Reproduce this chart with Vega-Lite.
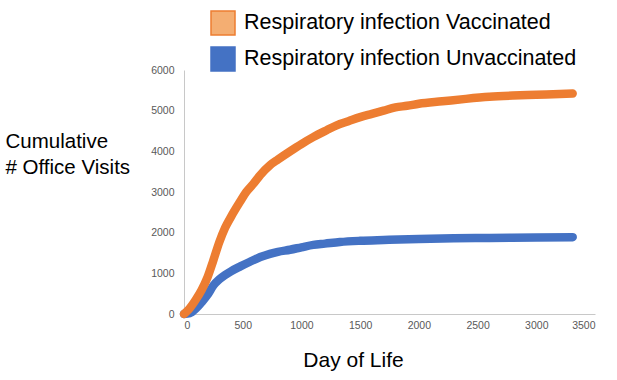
{
  "$schema": "https://vega.github.io/schema/vega-lite/v6.json",
  "width": 411,
  "height": 244,
  "autosize": {"type": "none"},
  "padding": {"left": 184, "top": 70, "right": 22, "bottom": 66},
  "background": "white",
  "config": {
    "view": {"stroke": null},
    "font": "Liberation Sans"
  },
  "data": {
    "values": [
      {"day": 0, "visits": 0, "group": "Respiratory infection Vaccinated"},
      {"day": 40, "visits": 110, "group": "Respiratory infection Vaccinated"},
      {"day": 100, "visits": 350, "group": "Respiratory infection Vaccinated"},
      {"day": 150, "visits": 590, "group": "Respiratory infection Vaccinated"},
      {"day": 200, "visits": 900, "group": "Respiratory infection Vaccinated"},
      {"day": 250, "visits": 1320, "group": "Respiratory infection Vaccinated"},
      {"day": 300, "visits": 1760, "group": "Respiratory infection Vaccinated"},
      {"day": 350, "visits": 2120, "group": "Respiratory infection Vaccinated"},
      {"day": 400, "visits": 2390, "group": "Respiratory infection Vaccinated"},
      {"day": 477, "visits": 2760, "group": "Respiratory infection Vaccinated"},
      {"day": 530, "visits": 3000, "group": "Respiratory infection Vaccinated"},
      {"day": 590, "visits": 3200, "group": "Respiratory infection Vaccinated"},
      {"day": 650, "visits": 3420, "group": "Respiratory infection Vaccinated"},
      {"day": 732, "visits": 3660, "group": "Respiratory infection Vaccinated"},
      {"day": 800, "visits": 3800, "group": "Respiratory infection Vaccinated"},
      {"day": 903, "visits": 4000, "group": "Respiratory infection Vaccinated"},
      {"day": 1000, "visits": 4180, "group": "Respiratory infection Vaccinated"},
      {"day": 1100, "visits": 4350, "group": "Respiratory infection Vaccinated"},
      {"day": 1215, "visits": 4520, "group": "Respiratory infection Vaccinated"},
      {"day": 1300, "visits": 4640, "group": "Respiratory infection Vaccinated"},
      {"day": 1400, "visits": 4740, "group": "Respiratory infection Vaccinated"},
      {"day": 1500, "visits": 4840, "group": "Respiratory infection Vaccinated"},
      {"day": 1600, "visits": 4920, "group": "Respiratory infection Vaccinated"},
      {"day": 1700, "visits": 5000, "group": "Respiratory infection Vaccinated"},
      {"day": 1800, "visits": 5080, "group": "Respiratory infection Vaccinated"},
      {"day": 1900, "visits": 5120, "group": "Respiratory infection Vaccinated"},
      {"day": 2000, "visits": 5170, "group": "Respiratory infection Vaccinated"},
      {"day": 2200, "visits": 5230, "group": "Respiratory infection Vaccinated"},
      {"day": 2400, "visits": 5290, "group": "Respiratory infection Vaccinated"},
      {"day": 2600, "visits": 5340, "group": "Respiratory infection Vaccinated"},
      {"day": 2800, "visits": 5370, "group": "Respiratory infection Vaccinated"},
      {"day": 3000, "visits": 5390, "group": "Respiratory infection Vaccinated"},
      {"day": 3200, "visits": 5410, "group": "Respiratory infection Vaccinated"},
      {"day": 3310, "visits": 5420, "group": "Respiratory infection Vaccinated"},
      {"day": 0, "visits": 0, "group": "Respiratory infection Unvaccinated"},
      {"day": 50, "visits": 20, "group": "Respiratory infection Unvaccinated"},
      {"day": 100, "visits": 130, "group": "Respiratory infection Unvaccinated"},
      {"day": 150, "visits": 290, "group": "Respiratory infection Unvaccinated"},
      {"day": 200, "visits": 470, "group": "Respiratory infection Unvaccinated"},
      {"day": 250, "visits": 700, "group": "Respiratory infection Unvaccinated"},
      {"day": 300, "visits": 850, "group": "Respiratory infection Unvaccinated"},
      {"day": 350, "visits": 960, "group": "Respiratory infection Unvaccinated"},
      {"day": 400, "visits": 1050, "group": "Respiratory infection Unvaccinated"},
      {"day": 480, "visits": 1170, "group": "Respiratory infection Unvaccinated"},
      {"day": 562, "visits": 1285, "group": "Respiratory infection Unvaccinated"},
      {"day": 650, "visits": 1400, "group": "Respiratory infection Unvaccinated"},
      {"day": 732, "visits": 1480, "group": "Respiratory infection Unvaccinated"},
      {"day": 800, "visits": 1530, "group": "Respiratory infection Unvaccinated"},
      {"day": 903, "visits": 1580, "group": "Respiratory infection Unvaccinated"},
      {"day": 1000, "visits": 1640, "group": "Respiratory infection Unvaccinated"},
      {"day": 1101, "visits": 1700, "group": "Respiratory infection Unvaccinated"},
      {"day": 1200, "visits": 1730, "group": "Respiratory infection Unvaccinated"},
      {"day": 1328, "visits": 1770, "group": "Respiratory infection Unvaccinated"},
      {"day": 1500, "visits": 1800, "group": "Respiratory infection Unvaccinated"},
      {"day": 1700, "visits": 1820, "group": "Respiratory infection Unvaccinated"},
      {"day": 2000, "visits": 1845, "group": "Respiratory infection Unvaccinated"},
      {"day": 2300, "visits": 1860, "group": "Respiratory infection Unvaccinated"},
      {"day": 2600, "visits": 1870, "group": "Respiratory infection Unvaccinated"},
      {"day": 3000, "visits": 1880, "group": "Respiratory infection Unvaccinated"},
      {"day": 3310, "visits": 1890, "group": "Respiratory infection Unvaccinated"}
    ]
  },
  "encoding": {
    "x": {
      "field": "day",
      "type": "quantitative",
      "scale": {"domain": [0, 3500], "nice": false},
      "axis": {
        "values": [0, 500, 1000, 1500, 2000, 2500, 3000, 3500],
        "format": "d",
        "grid": false,
        "ticks": false,
        "domainColor": "#C8C8C8",
        "labelColor": "#595959",
        "labelFontSize": 10.5,
        "labelPadding": 6,
        "title": "Day of Life",
        "titleFontSize": 21,
        "titleFontWeight": "normal",
        "titleColor": "black",
        "titleX": 169,
        "titleY": 52,
        "titleAlign": "center",
        "titleBaseline": "alphabetic"
      }
    },
    "y": {
      "field": "visits",
      "type": "quantitative",
      "scale": {"domain": [0, 6000], "nice": false},
      "axis": {
        "values": [0, 1000, 2000, 3000, 4000, 5000, 6000],
        "format": "d",
        "grid": false,
        "ticks": false,
        "domainColor": "#C8C8C8",
        "labelColor": "#595959",
        "labelFontSize": 10.5,
        "labelPadding": 10,
        "title": ["Cumulative", "# Office Visits"],
        "titleFontSize": 20.5,
        "titleFontWeight": "normal",
        "titleColor": "black",
        "titleAngle": 0,
        "titleAlign": "left",
        "titleBaseline": "alphabetic",
        "titleLineHeight": 26,
        "titleX": -179,
        "titleY": 77
      }
    },
    "color": {
      "field": "group",
      "type": "nominal",
      "scale": {
        "domain": ["Respiratory infection Vaccinated", "Respiratory infection Unvaccinated"],
        "range": ["#ED7D31", "#4472C4"]
      },
      "legend": {
        "orient": "none",
        "legendX": 26,
        "legendY": -60,
        "title": null,
        "padding": 0,
        "symbolType": "square",
        "symbolSize": 576,
        "symbolStrokeWidth": 1.5,
        "labelFontSize": 21.5,
        "labelColor": "black",
        "labelOffset": 8,
        "labelLimit": 400,
        "rowPadding": 6,
        "encode": {
          "symbols": {
            "update": {
              "fill": {"signal": "datum.value === 'Respiratory infection Vaccinated' ? '#F4AE72' : '#4472C4'"},
              "stroke": {"signal": "datum.value === 'Respiratory infection Vaccinated' ? '#B98D66' : '#3A5F9E'"},
              "opacity": {"value": 1},
              "fillOpacity": {"value": 1}
            }
          }
        }
      }
    }
  },
  "layer": [
    {
      "transform": [{"filter": "datum.group === 'Respiratory infection Unvaccinated'"}],
      "mark": {"type": "line", "strokeWidth": 8.5, "strokeCap": "round", "strokeJoin": "round", "interpolate": "monotone"}
    },
    {
      "transform": [{"filter": "datum.group === 'Respiratory infection Vaccinated'"}],
      "mark": {"type": "line", "strokeWidth": 8.5, "strokeCap": "round", "strokeJoin": "round", "interpolate": "monotone"}
    }
  ]
}
